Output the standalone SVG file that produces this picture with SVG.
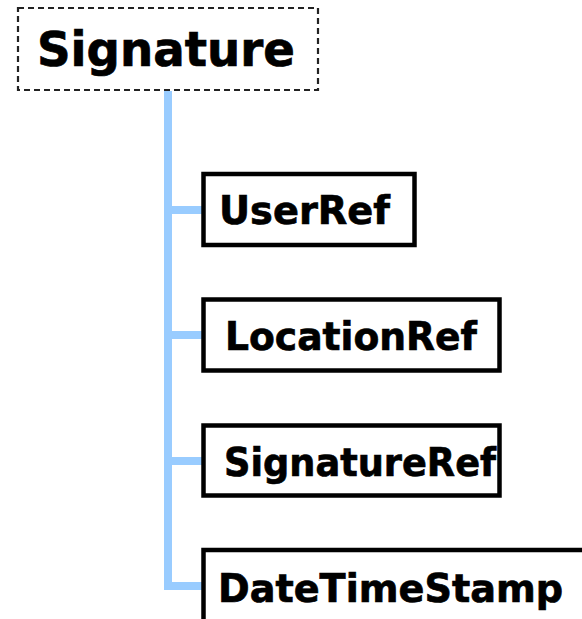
<svg xmlns="http://www.w3.org/2000/svg" width="582" height="619" viewBox="0 0 582 619">
  <style>
    .label { font-family: "DejaVu Sans", Verdana, sans-serif; font-weight: bold; fill: #000; stroke: #000; stroke-width: 0.7; }
    .child rect { fill: #fff; stroke: #000; stroke-width: 4.5; }
    .child text { font-size: 39.5px; }
    .link { stroke: #99ccff; stroke-width: 8; fill: none; }
  </style>
  <rect width="582" height="619" fill="#fff"/>

  <!-- tree connectors -->
  <g id="connectors">
    <line class="link" x1="168" y1="91" x2="168" y2="590"/>
    <line class="link" x1="164" y1="210" x2="203" y2="210"/>
    <line class="link" x1="164" y1="335" x2="203" y2="335"/>
    <line class="link" x1="164" y1="461" x2="203" y2="461"/>
    <line class="link" x1="164" y1="586" x2="203" y2="586"/>
  </g>

  <!-- root element -->
  <g id="signature">
    <rect x="18" y="8" width="300" height="82" fill="#fff" stroke="#222" stroke-width="2.2" stroke-dasharray="6 4"/>
    <text class="label" x="37" y="65.5" font-size="48" textLength="258" lengthAdjust="spacingAndGlyphs">Signature</text>
  </g>

  <g id="userref" class="child">
    <rect x="203.5" y="174" width="211" height="71"/>
    <text class="label" x="219" y="224" textLength="171" lengthAdjust="spacingAndGlyphs">UserRef</text>
  </g>

  <g id="locationref" class="child">
    <rect x="203.5" y="299.5" width="296" height="71"/>
    <text class="label" x="225" y="349.5" textLength="252" lengthAdjust="spacingAndGlyphs">LocationRef</text>
  </g>

  <g id="signatureref" class="child">
    <rect x="203.5" y="425.5" width="296" height="70"/>
    <text class="label" x="224" y="475.5" textLength="272" lengthAdjust="spacingAndGlyphs">SignatureRef</text>
  </g>

  <g id="datetimestamp" class="child">
    <rect x="203.5" y="550" width="400" height="72"/>
    <text class="label" x="218" y="601.5" textLength="345" lengthAdjust="spacingAndGlyphs">DateTimeStamp</text>
  </g>
</svg>
